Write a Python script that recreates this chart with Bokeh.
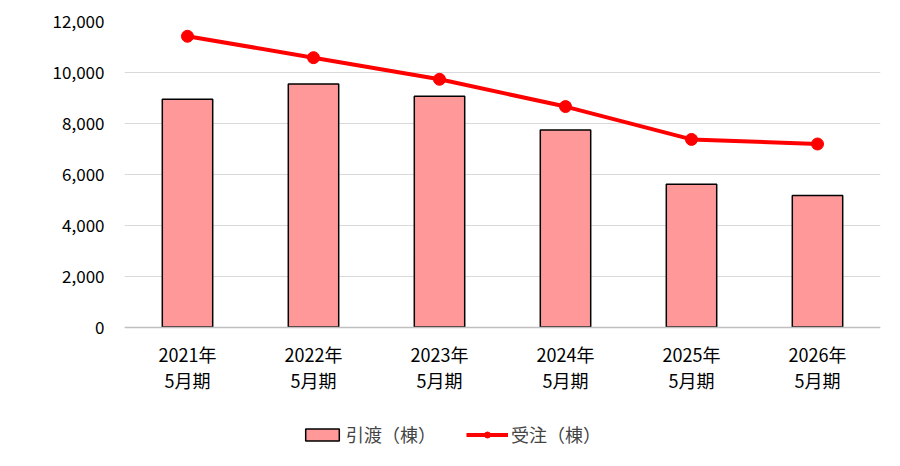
from bokeh.plotting import figure
from bokeh.models import FactorRange, Range1d, Legend, LegendItem, NumeralTickFormatter
from bokeh.embed import file_html
from bokeh.resources import INLINE

# data
periods = ["2021年\n5月期", "2022年\n5月期", "2023年\n5月期",
           "2024年\n5月期", "2025年\n5月期", "2026年\n5月期"]
delivered = [8950, 9550, 9060, 7740, 5610, 5170]      # 引渡（棟）
orders = [11420, 10580, 9730, 8660, 7370, 7190]       # 受注（棟）
y_ticks = [0, 2000, 4000, 6000, 8000, 10000, 12000]

FONT = "Noto Sans CJK JP"

# the frame reaches down to the legend so that the legend is not clipped;
# the category axis sits at y = 0
p = figure(x_range=FactorRange(*periods), y_range=Range1d(-4845, 12000),
           width=884, height=450, output_backend="svg", toolbar_location=None,
           min_border_left=124, min_border_right=4, min_border_top=21,
           min_border_bottom=0)
p.outline_line_color = None

bars = p.vbar(x=periods, top=delivered, width=0.4, fill_color="#ff9999",
              line_color="black", line_width=1.5)
line = p.line(periods, orders, color="red", line_width=4)
dots = p.scatter(periods, orders, size=12, color="red")

p.xgrid.grid_line_color = None
p.ygrid.ticker = y_ticks
p.ygrid.grid_line_color = "#d9d9d9"
p.ygrid.grid_line_width = 1

p.yaxis.ticker = y_ticks
p.yaxis.formatter = NumeralTickFormatter(format="0,0")
p.yaxis.axis_line_color = None
p.yaxis.major_tick_line_color = None
p.yaxis.minor_tick_line_color = None
p.yaxis.major_label_standoff = 14
p.yaxis.major_label_text_font_size = "17px"

p.xaxis.fixed_location = 0
p.xaxis.axis_line_color = "#bfbfbf"
p.xaxis.axis_line_width = 1.5
p.xaxis.major_tick_line_color = None
p.xaxis.major_label_standoff = 8
p.xaxis.major_label_text_line_height = 1.0
p.xaxis.major_label_text_font_size = "18px"

for ax in (p.xaxis, p.yaxis):
    ax.major_label_text_font = FONT
    ax.major_label_text_color = "black"

legend = Legend(items=[LegendItem(label="引渡（棟）", renderers=[bars]),
                       LegendItem(label="受注（棟）", renderers=[line, dots])],
                orientation="horizontal", location=(177, 3),
                label_text_font=FONT, label_text_font_size="18px",
                glyph_width=42, glyph_height=15, label_height=15,
                label_standoff=3, spacing=30, padding=0, margin=0,
                border_line_alpha=0, background_fill_alpha=0)
p.add_layout(legend, "center")

open("out.html", "w").write(file_html(p, INLINE))
